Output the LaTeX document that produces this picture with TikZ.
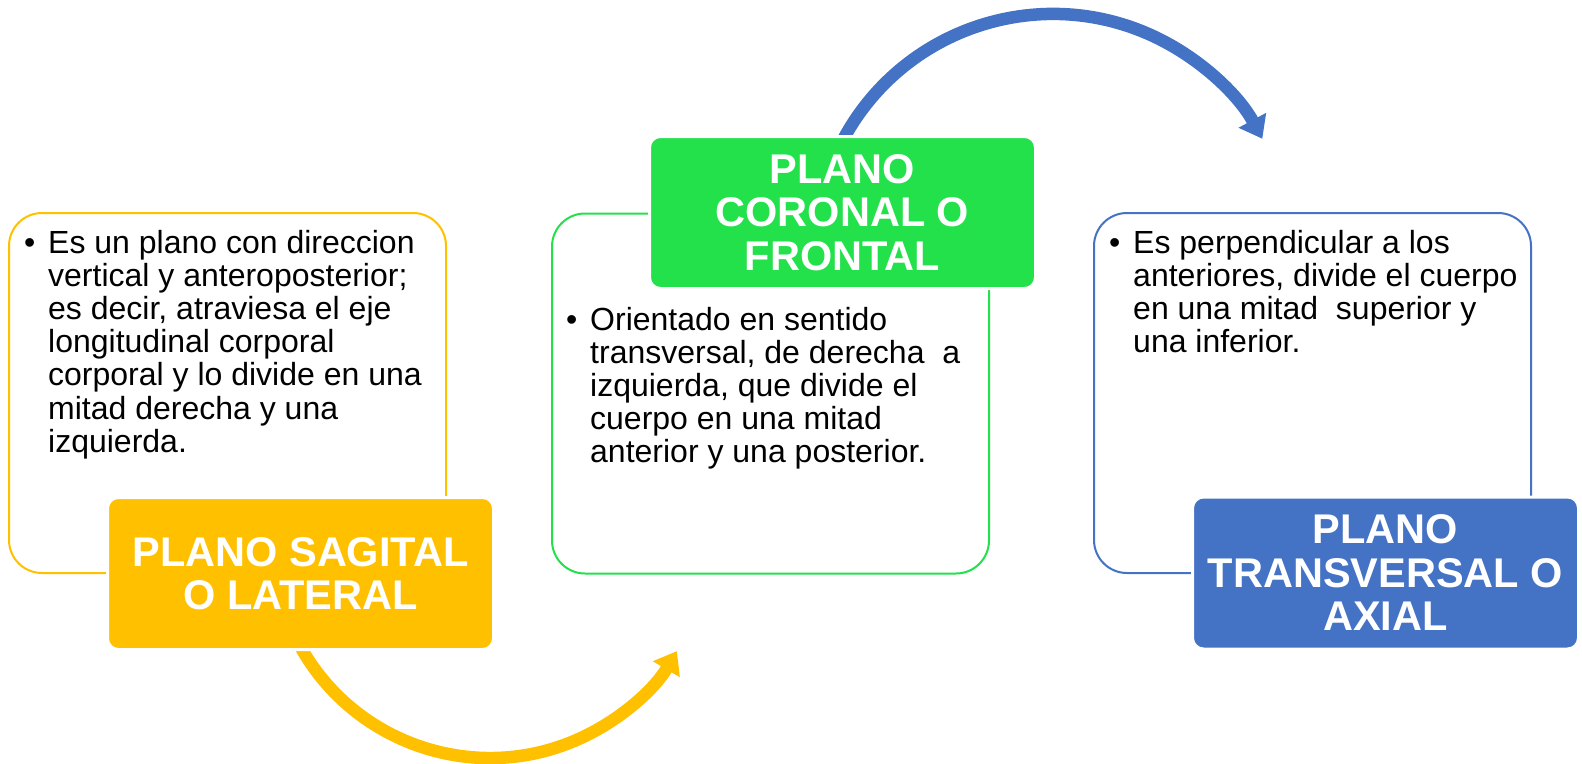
\documentclass[tikz,border=0pt]{standalone}
\usepackage{fontspec}
\setmainfont{Liberation Sans}
\usetikzlibrary{arrows.meta}
\definecolor{gold}{HTML}{FFC000}
\definecolor{grn}{RGB}{35,225,75}
\definecolor{blu}{HTML}{4472C4}
\begin{document}
\begin{tikzpicture}[x=1pt,y=-1pt,
  outlinebox/.style={draw, line width=2pt, rounded corners=33pt, inner sep=0pt,
    minimum width=437pt, minimum height=360pt, fill=white},
  headerbox/.style={draw=white, line width=3pt, rounded corners=11pt, inner sep=0pt,
    minimum width=386pt, minimum height=152pt, text=white, align=center,
    font=\fontsize{41.5}{43.5}\selectfont\bfseries},
  bodytext/.style={inner sep=0pt, anchor=base west, text=black,
    font=\fontsize{32}{33.2}\selectfont},
  bulletmark/.style={inner sep=0pt, anchor=base west, text=black,
    font=\fontsize{32}{33}\selectfont},
  bigarrow/.style={line width=12.5pt, -{Triangle[length=21pt,width=30pt]}}
]
\useasboundingbox (0,0) rectangle (1582,763);

% arrows (drawn first, their starts hidden under the header boxes)
\coordinate (ystart) at (293.3,632.7);
\coordinate (bstart) at (840.9,143.9);
\draw[bigarrow, gold] (ystart) arc[start angle=155, end angle=30.5, radius=217];
\draw[bigarrow, blu] (bstart) arc[start angle=207, end angle=331.6, radius=238];

% outline boxes
\node[outlinebox, draw=gold] (b1) at (227.5,393) {};
\node[outlinebox, draw=grn] (b2) at (770.5,393.5) {};
\node[outlinebox, draw=blu] (b3) at (1312.5,393) {};

% header boxes
\node[headerbox, fill=gold] (h1) at (300.5,573.5) {PLANO SAGITAL\\O LATERAL};
\node[headerbox, fill=grn] (h2) at (842.5,212.5) {PLANO\\CORONAL O\\FRONTAL};
\node[headerbox, fill=blu] (h3) at (1385.5,573) {PLANO\\TRANSVERSAL O\\AXIAL};

% body texts
\node[bulletmark] (u1) at (24,253) {•};
\node[bodytext] (t1) at (48,253) {\begin{tabular}[t]{@{}l@{}}Es un plano con direccion\\
vertical y anteroposterior;\\
es decir, atraviesa el eje\\
longitudinal corporal\\
corporal y lo divide en una\\
mitad derecha y una\\
izquierda.\end{tabular}};

\node[bulletmark] (u2) at (566,330) {•};
\node[bodytext] (t2) at (590,330) {\begin{tabular}[t]{@{}l@{}}Orientado en sentido\\
transversal, de derecha\ \ a\\
izquierda, que divide el\\
cuerpo en una mitad\\
anterior y una posterior.\end{tabular}};

\node[bulletmark] (u3) at (1109,253) {•};
\node[bodytext] (t3) at (1133,253) {\begin{tabular}[t]{@{}l@{}}Es perpendicular a los\\
anteriores, divide el cuerpo\\
en una mitad\ \ superior y\\
una inferior.\end{tabular}};
\end{tikzpicture}
\end{document}
